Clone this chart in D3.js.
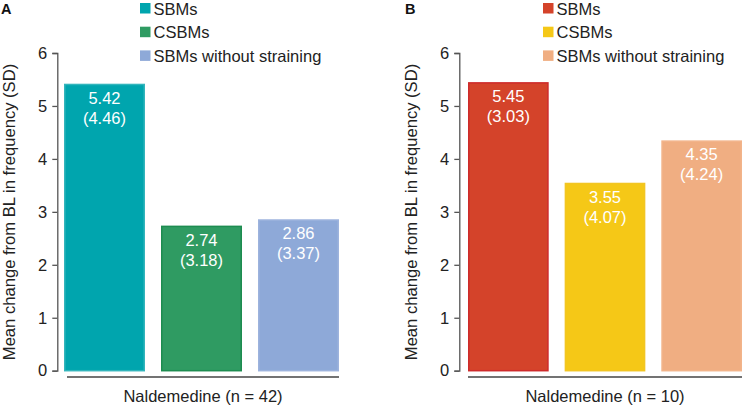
<!DOCTYPE html>
<html><head><meta charset="utf-8">
<script src="https://cdn.jsdelivr.net/npm/d3@7"></script>
<style>body{margin:0;background:#fff;} svg{display:block;} text{font-family:"Liberation Sans",Arial,sans-serif;}</style>
</head><body>
<svg id="c" width="742" height="407"></svg>
<script>
const categories = ["SBMs", "CSBMs", "SBMs without straining"];
const valuesA = [5.42, 2.74, 2.86];
const sdA = [4.46, 3.18, 3.37];
const valuesB = [5.45, 3.55, 4.35];
const sdB = [3.03, 4.07, 4.24];
const yTicks = [0, 1, 2, 3, 4, 5, 6];
const colorsA = ["#00A5AE", "#2F9B62", "#8EA9D8"];
const strokesA = ["#33B5BC", "#1D8C50", "#9DB3DD"];
const colorsB = ["#D4432A", "#F5C817", "#F0AE82"];
const strokesB = ["#CE2B2B", "#F2C523", "#F2B48A"];
const panelLetters = ["A", "B"];
const groupLabels = ["Naldemedine (n = 42)", "Naldemedine (n = 10)"];
const yTitle = "Mean change from BL in frequency (SD)";

const svg = d3.select("#c");
const y = d3.scaleLinear().domain([0, 6]).range([370.7, 53]);

function panel(cfg) {
  const g = svg.append("g");
  const x = d3.scaleBand().domain(categories).range(cfg.xr).paddingInner(0.165).paddingOuter(0);
  // axis
  const ax = g.append("g").attr("transform", `translate(${cfg.axisX},0)`)
    .call(d3.axisLeft(y).tickValues(yTicks).tickSize(5).tickPadding(5).tickFormat(d3.format("d")));
  ax.select(".domain").attr("stroke", "#555").attr("stroke-width", 1.3);
  ax.selectAll(".tick line").attr("stroke", "#555").attr("stroke-width", 1.3);
  ax.selectAll(".tick text").attr("font-size", 16.5).attr("fill", "#222")
    .attr("font-family", "'Liberation Sans',Arial,sans-serif");
  // y title
  g.append("text").attr("transform", `translate(${cfg.axisX - 42},${212}) rotate(-90)`)
    .attr("text-anchor", "middle").attr("font-size", 16.6).attr("fill", "#222").text(yTitle);
  // bars
  const data = categories.map((c, i) => ({c, v: cfg.values[i], sd: cfg.sd[i], fill: cfg.colors[i], stroke: cfg.strokes[i]}));
  g.selectAll("rect.bar").data(data).enter().append("rect").attr("class", "bar")
    .attr("x", d => x(d.c) + 0.75).attr("width", x.bandwidth() - 1.5)
    .attr("y", d => y(d.v) + 0.75).attr("height", d => y(0) - y(d.v) - 0.75)
    .attr("fill", d => d.fill).attr("stroke", d => d.stroke).attr("stroke-width", 1.5);
  g.selectAll("text.val").data(data).enter().append("text").attr("class", "val")
    .attr("x", d => x(d.c) + x.bandwidth() / 2).attr("y", d => y(d.v) + 20)
    .attr("text-anchor", "middle").attr("font-size", 16.5).attr("fill", "#fff").text(d => d.v.toFixed(2));
  g.selectAll("text.sd").data(data).enter().append("text").attr("class", "sd")
    .attr("x", d => x(d.c) + x.bandwidth() / 2).attr("y", d => y(d.v) + 40)
    .attr("text-anchor", "middle").attr("font-size", 16.5).attr("fill", "#fff").text(d => "(" + d.sd.toFixed(2) + ")");
  // baseline bracket
  g.append("line").attr("x1", cfg.lineX[0]).attr("x2", cfg.lineX[1]).attr("y1", 377).attr("y2", 377)
    .attr("stroke", "#444").attr("stroke-width", 1.5);
  g.append("text").attr("x", (cfg.lineX[0] + cfg.lineX[1]) / 2).attr("y", 402).attr("text-anchor", "middle")
    .attr("font-size", 16.5).attr("fill", "#222").text(cfg.group);
  // panel letter
  g.append("text").attr("x", cfg.letterX).attr("y", 13.5).attr("font-size", 14.5).attr("font-weight", "bold")
    .attr("fill", "#111").text(cfg.letter);
  // legend
  const lg = g.append("g").attr("transform", `translate(${cfg.legX},0)`);
  data.forEach((d, i) => {
    lg.append("rect").attr("x", 0).attr("y", 3 + i * 23.7).attr("width", 10.5).attr("height", 10.5).attr("fill", d.fill);
    lg.append("text").attr("x", 13.5).attr("y", 14.5 + i * 23.7).attr("font-size", 16.5).attr("fill", "#222").text(d.c);
  });
}

panel({xr: [64, 339], axisX: 57.3, values: valuesA, sd: sdA, colors: colorsA, strokes: strokesA,
  lineX: [67, 339], group: groupLabels[0], letter: panelLetters[0], letterX: 1, legX: 140});
panel({xr: [468, 742], axisX: 459.3, values: valuesB, sd: sdB, colors: colorsB, strokes: strokesB,
  lineX: [468, 742], group: groupLabels[1], letter: panelLetters[1], letterX: 405, legX: 543});
</script>
</body></html>
